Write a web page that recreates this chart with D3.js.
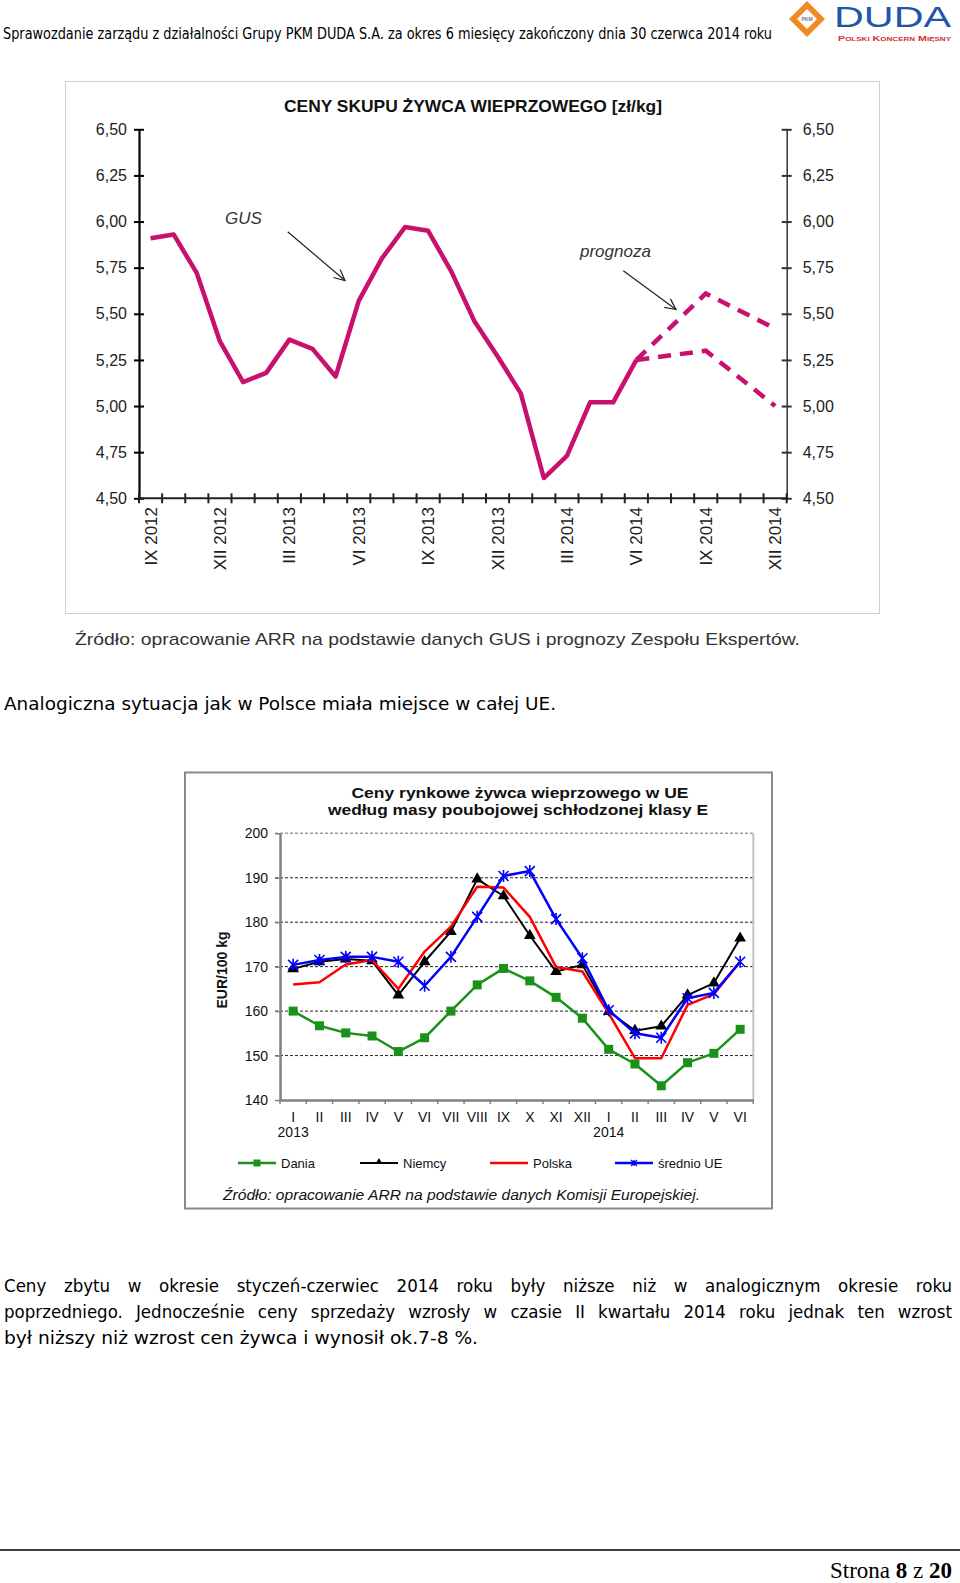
<!DOCTYPE html>
<html><head><meta charset="utf-8">
<script src="https://cdn.jsdelivr.net/npm/d3@7"></script>
<style>
html,body{margin:0;padding:0;background:#fff;}
svg{display:block;}
</style></head><body>
<svg id="page" width="960" height="1583"></svg>
<script>
// ===== Chart 1 data: Ceny skupu żywca wieprzowego [zł/kg] =====
const months1 = ["IX 2012","X 2012","XI 2012","XII 2012","I 2013","II 2013","III 2013","IV 2013","V 2013","VI 2013","VII 2013","VIII 2013","IX 2013","X 2013","XI 2013","XII 2013","I 2014","II 2014","III 2014","IV 2014","V 2014","VI 2014","VII 2014","VIII 2014","IX 2014","X 2014","XI 2014","XII 2014"];
const gusPrices = [5.91,5.93,5.72,5.35,5.13,5.18,5.36,5.31,5.16,5.57,5.80,5.97,5.95,5.73,5.46,5.27,5.07,4.61,4.73,5.02,5.02,5.25];
const forecastMonths = ["VI 2014","IX 2014","XII 2014"];
const forecastHigh = [5.25,5.61,5.42];
const forecastLow = [5.25,5.30,5.00];
const yTicks1 = [4.50,4.75,5.00,5.25,5.50,5.75,6.00,6.25,6.50];
const xLabels1 = ["IX 2012","XII 2012","III 2013","VI 2013","IX 2013","XII 2013","III 2014","VI 2014","IX 2014","XII 2014"];

// ===== Chart 2 data: Ceny rynkowe żywca wieprzowego w UE [EUR/100 kg] =====
const months2 = ["I 2013","II 2013","III 2013","IV 2013","V 2013","VI 2013","VII 2013","VIII 2013","IX 2013","X 2013","XI 2013","XII 2013","I 2014","II 2014","III 2014","IV 2014","V 2014","VI 2014"];
const dania     = [160.0,156.7,155.1,154.4,150.9,154.0,160.0,165.9,169.6,166.8,163.1,158.4,151.4,148.1,143.2,148.4,150.5,155.9];
const niemcy    = [169.5,171.1,171.7,171.3,163.6,171.1,177.9,189.7,185.9,177.0,168.9,170.4,159.9,155.6,156.6,163.6,166.3,176.4];
const polska    = [166.0,166.5,170.5,171.5,165.0,173.4,179.0,188.0,187.8,181.2,169.9,168.9,159.5,149.4,149.4,161.4,163.8,171.1];
const sredniaUE = [170.4,171.5,172.2,172.2,171.1,165.7,172.2,181.2,190.4,191.5,180.7,171.9,160.2,155.0,154.0,162.9,164.1,171.1];
const yTicks2 = [140,150,160,170,180,190,200];
const yearMonths2 = ["I 2013","I 2014"];
const yearLabels2 = ["2013","2014"];
const seriesNames2 = ["Dania","Niemcy","Polska","średnio UE"];

const svg = d3.select("#page");
const ARIAL = "'Liberation Sans', Arial, sans-serif";
const TAHOMA = "'DejaVu Sans Condensed', 'DejaVu Sans', sans-serif";
const TIMES = "'Liberation Serif', 'Times New Roman', serif";

// ---------- Header ----------
svg.append("text").attr("x",3).attr("y",39).attr("font-family",TAHOMA).attr("font-size",16)
  .attr("fill","#000").attr("textLength",769).attr("lengthAdjust","spacingAndGlyphs")
  .text("Sprawozdanie zarządu z działalności Grupy PKM DUDA S.A. za okres 6 miesięcy zakończony dnia 30 czerwca 2014 roku");
// logo
const logo = svg.append("g");
logo.append("polygon").attr("points","807,1 825,19 807,37 789,19").attr("fill","#f08a24");
logo.append("polygon").attr("points","807,9 817,19 807,29 797,19").attr("fill","#fff");
logo.append("text").attr("x",807).attr("y",21).attr("text-anchor","middle").attr("font-family",ARIAL)
  .attr("font-size",5).attr("font-weight","bold").attr("fill","#777").text("PKM");
logo.append("text").attr("x",834).attr("y",27).attr("font-family",ARIAL).attr("font-size",29.5)
  .attr("fill","#1f57a8").attr("textLength",117).attr("lengthAdjust","spacingAndGlyphs").text("DUDA");
logo.append("text").attr("x",838).attr("y",41).attr("font-family",ARIAL).attr("font-size",8)
  .attr("font-weight","bold").attr("font-variant","small-caps").attr("fill","#d82a2a")
  .attr("textLength",113).attr("lengthAdjust","spacingAndGlyphs").text("Polski Koncern Mięsny");

// ---------- Chart 1 ----------
const c1 = svg.append("g");
c1.append("rect").attr("x",65.5).attr("y",81.5).attr("width",814).attr("height",532)
  .attr("fill","#fff").attr("stroke","#cfcfcf").attr("stroke-width",1);
c1.append("text").attr("x",473).attr("y",112).attr("text-anchor","middle").attr("font-family",ARIAL)
  .attr("font-weight","bold").attr("font-size",17).attr("fill","#111")
  .attr("textLength",378).attr("lengthAdjust","spacingAndGlyphs")
  .text("CENY SKUPU ŻYWCA WIEPRZOWEGO [zł/kg]");

const x1 = d3.scaleBand().domain(months1).range([139,786.7]);
const y1 = d3.scaleLinear().domain([4.5,6.5]).range([498.3,129.3]);
const cx1 = m => x1(m) + x1.bandwidth()/2;

const leftAx = c1.append("g").attr("transform","translate(139,0)")
  .call(d3.axisLeft(y1).tickValues(yTicks1).tickSizeInner(5).tickSizeOuter(0).tickPadding(8)
    .tickFormat(d => d3.format(".2f")(d).replace(".",",")));
leftAx.select(".domain").attr("stroke","#000").attr("stroke-width",2.2);
leftAx.selectAll(".tick line").attr("stroke","#000").attr("stroke-width",2).attr("x2",5).attr("x1",-5);
leftAx.selectAll(".tick text").attr("font-family",ARIAL).attr("font-size",16).attr("fill","#222").attr("x",-12);

const rightAx = c1.append("g").attr("transform","translate(786.7,0)")
  .call(d3.axisRight(y1).tickValues(yTicks1).tickSizeInner(5).tickSizeOuter(0).tickPadding(8)
    .tickFormat(d => d3.format(".2f")(d).replace(".",",")));
rightAx.select(".domain").attr("stroke","#333").attr("stroke-width",1.5);
rightAx.selectAll(".tick line").attr("stroke","#333").attr("stroke-width",2).attr("x1",-5).attr("x2",5);
rightAx.selectAll(".tick text").attr("font-family",ARIAL).attr("font-size",16).attr("fill","#222").attr("x",16);

c1.append("line").attr("x1",139).attr("x2",786.7).attr("y1",y1(4.5)).attr("y2",y1(4.5))
  .attr("stroke","#222").attr("stroke-width",2);
const bounds1 = d3.range(months1.length+1).map(k => x1.range()[0] + k*x1.step());
c1.append("g").selectAll("line").data(bounds1).join("line")
  .attr("x1",d=>d).attr("x2",d=>d).attr("y1",y1(4.5)-5).attr("y2",y1(4.5)+5)
  .attr("stroke","#222").attr("stroke-width",2);
c1.append("g").selectAll("text").data(xLabels1).join("text")
  .attr("transform",d => `translate(${cx1(d)},507) rotate(-90)`)
  .attr("text-anchor","end").attr("dy","0.36em").attr("font-family",ARIAL).attr("font-size",17)
  .attr("fill","#222").text(d=>d);

const lineColor1 = "#c8106e";
const line1 = d3.line().x((d,i)=>cx1(months1[i])).y(d=>y1(d));
c1.append("path").attr("d",line1(gusPrices)).attr("fill","none").attr("stroke",lineColor1)
  .attr("stroke-width",4.5).attr("stroke-linejoin","round");
const lineF = d3.line().x((d,i)=>cx1(forecastMonths[i])).y(d=>y1(d));
[forecastHigh,forecastLow].forEach(s => {
  c1.append("path").attr("d",lineF(s)).attr("fill","none").attr("stroke",lineColor1)
    .attr("stroke-width",4.5).attr("stroke-dasharray","13,9");
});

function arrow(g,xA,yA,xB,yB){
  g.append("line").attr("x1",xA).attr("y1",yA).attr("x2",xB).attr("y2",yB).attr("stroke","#222").attr("stroke-width",1.2);
  const ang = Math.atan2(yB-yA,xB-xA), L=12, w=0.45;
  const p1=[xB-L*Math.cos(ang-w), yB-L*Math.sin(ang-w)], p2=[xB-L*Math.cos(ang+w), yB-L*Math.sin(ang+w)];
  g.append("path").attr("d",`M${p1[0]},${p1[1]}L${xB},${yB}L${p2[0]},${p2[1]}`).attr("fill","none").attr("stroke","#222").attr("stroke-width",1.2);
}
c1.append("text").attr("x",225).attr("y",224).attr("font-family",ARIAL).attr("font-style","italic")
  .attr("font-size",17).attr("fill","#333").text("GUS");
arrow(c1,287.7,231.7,345,280.5);
c1.append("text").attr("x",580).attr("y",257).attr("font-family",ARIAL).attr("font-style","italic")
  .attr("font-size",17).attr("fill","#333").text("prognoza");
arrow(c1,623.3,270.7,676,309.5);

svg.append("text").attr("x",75).attr("y",645).attr("font-family",ARIAL).attr("font-size",17)
  .attr("fill","#333").attr("textLength",725).attr("lengthAdjust","spacingAndGlyphs")
  .text("Źródło: opracowanie ARR na podstawie danych GUS i prognozy Zespołu Ekspertów.");

svg.append("text").attr("x",4).attr("y",710).attr("font-family",TAHOMA).attr("font-size",18.5)
  .attr("fill","#000").attr("textLength",552).attr("lengthAdjust","spacingAndGlyphs")
  .text("Analogiczna sytuacja jak w Polsce miała miejsce w całej UE.");

// ---------- Chart 2 ----------
const c2 = svg.append("g");
c2.append("rect").attr("x",185).attr("y",772.5).attr("width",587).attr("height",436)
  .attr("fill","#fff").attr("stroke","#8a8a8a").attr("stroke-width",2);
c2.append("text").attr("x",520).attr("y",798).attr("text-anchor","middle").attr("font-family",ARIAL)
  .attr("font-weight","bold").attr("font-size",15).attr("fill","#111")
  .attr("textLength",337).attr("lengthAdjust","spacingAndGlyphs").text("Ceny rynkowe żywca wieprzowego w UE");
c2.append("text").attr("x",518).attr("y",815).attr("text-anchor","middle").attr("font-family",ARIAL)
  .attr("font-weight","bold").attr("font-size",15).attr("fill","#111")
  .attr("textLength",380).attr("lengthAdjust","spacingAndGlyphs").text("według masy poubojowej schłodzonej klasy E");

const x2 = d3.scaleBand().domain(months2).range([280,753.3]);
const y2 = d3.scaleLinear().domain([140,200]).range([1100,833.3]);
const cx2 = m => x2(m) + x2.bandwidth()/2;

c2.append("g").selectAll("line").data(yTicks2.filter(v=>v>140 && v<200)).join("line")
  .attr("x1",275).attr("x2",753.3).attr("y1",d=>y2(d)).attr("y2",d=>y2(d))
  .attr("stroke","#222").attr("stroke-width",1).attr("stroke-dasharray","3,2");
c2.append("line").attr("x1",275).attr("x2",753.3).attr("y1",y2(200)).attr("y2",y2(200))
  .attr("stroke","#999").attr("stroke-width",1.5).attr("stroke-dasharray","3,2");
c2.append("line").attr("x1",753.3).attr("x2",753.3).attr("y1",y2(200)).attr("y2",y2(140))
  .attr("stroke","#c4c4c4").attr("stroke-width",2);

const lAx2 = c2.append("g").attr("transform","translate(280,0)")
  .call(d3.axisLeft(y2).tickValues(yTicks2).tickSizeInner(5).tickSizeOuter(0).tickPadding(8));
lAx2.select(".domain").attr("stroke","#808080").attr("stroke-width",2.5);
lAx2.selectAll(".tick line").attr("stroke","#808080").attr("stroke-width",1.5);
lAx2.selectAll(".tick text").attr("font-family",ARIAL).attr("font-size",14).attr("fill","#111").attr("x",-12);

const bAx2 = c2.append("g").attr("transform",`translate(0,${y2(140)})`)
  .call(d3.axisBottom(x2).tickSize(0).tickPadding(12).tickFormat(d=>d.split(" ")[0]));
bAx2.select(".domain").attr("stroke","#808080").attr("stroke-width",2.5);
bAx2.selectAll(".tick text").attr("font-family",ARIAL).attr("font-size",14).attr("fill","#111");
const bounds2 = d3.range(months2.length+1).map(k => x2.range()[0] + k*x2.step());
c2.append("g").selectAll("line").data(bounds2).join("line")
  .attr("x1",d=>d).attr("x2",d=>d).attr("y1",y2(140)).attr("y2",y2(140)+4)
  .attr("stroke","#808080").attr("stroke-width",1.5);
c2.append("g").selectAll("text").data(yearMonths2).join("text")
  .attr("x",d=>cx2(d)).attr("y",1137).attr("text-anchor","middle").attr("font-family",ARIAL)
  .attr("font-size",14).attr("fill","#111").text((d,i)=>yearLabels2[i]);

c2.append("text").attr("transform","translate(221.5,970) rotate(-90)").attr("text-anchor","middle")
  .attr("dy","0.36em").attr("font-family",ARIAL).attr("font-weight","bold").attr("font-size",14)
  .attr("fill","#111").text("EUR/100 kg");

const colors2 = ["#1a921a","#000000","#ff0000","#0000ff"];
const widths2 = [2.5,2,2.5,2.5];
const data2 = [dania,niemcy,polska,sredniaUE];
const line2 = d3.line().x((d,i)=>cx2(months2[i])).y(d=>y2(d));

function marker(g, type, x, y, color){
  if(type===0){
    g.append("rect").attr("x",x-4.5).attr("y",y-4.5).attr("width",9).attr("height",9).attr("fill",color);
  } else if(type===1){
    g.append("path").attr("transform",`translate(${x},${y})`).attr("d",d3.symbol(d3.symbolTriangle,60)()).attr("fill",color);
  } else if(type===3){
    const s=5;
    g.append("path").attr("d",`M${x-s},${y-s}L${x+s},${y+s}M${x-s},${y+s}L${x+s},${y-s}M${x},${y-s-1}L${x},${y+s+1}`)
      .attr("stroke",color).attr("stroke-width",1.6).attr("fill","none");
  }
}
data2.forEach((s,k) => {
  const g = c2.append("g");
  g.append("path").attr("d",line2(s)).attr("fill","none").attr("stroke",colors2[k])
    .attr("stroke-width",widths2[k]).attr("stroke-linejoin","round");
  s.forEach((v,i) => marker(g,k,cx2(months2[i]),y2(v),colors2[k]));
});

const legX = [238,360,490,615];
seriesNames2.forEach((n,k) => {
  const g = c2.append("g");
  g.append("line").attr("x1",legX[k]).attr("x2",legX[k]+38).attr("y1",1163).attr("y2",1163)
    .attr("stroke",colors2[k]).attr("stroke-width",widths2[k]);
  if(k===0) g.append("rect").attr("x",legX[k]+15.5).attr("y",1159.5).attr("width",7).attr("height",7).attr("fill",colors2[k]);
  else if(k===1) g.append("path").attr("transform",`translate(${legX[k]+19},1162)`).attr("d",d3.symbol(d3.symbolTriangle,22)()).attr("fill",colors2[k]);
  else if(k===3){const x=legX[k]+19,y=1163,s=3;
    g.append("path").attr("d",`M${x-s},${y-s}L${x+s},${y+s}M${x-s},${y+s}L${x+s},${y-s}M${x},${y-s}L${x},${y+s}`).attr("stroke",colors2[k]).attr("stroke-width",1.3);}
  g.append("text").attr("x",legX[k]+43).attr("y",1167.5).attr("font-family",ARIAL).attr("font-size",13)
    .attr("fill","#111").text(n);
});

c2.append("text").attr("x",223).attr("y",1200).attr("font-family",ARIAL).attr("font-style","italic")
  .attr("font-size",14).attr("fill","#111").attr("textLength",477).attr("lengthAdjust","spacingAndGlyphs")
  .text("Źródło: opracowanie ARR na podstawie danych Komisji Europejskiej.");

// ---------- Body text ----------
function justify(words, x0, x1, y, size){
  const t = svg.append("text").attr("y",y).attr("font-family",TAHOMA).attr("font-size",size).attr("fill","#000");
  const spans = words.map(w => t.append("tspan").text(w));
  const ws = spans.map(s => s.node().getComputedTextLength());
  const total = d3.sum(ws);
  const gap = (x1 - x0 - total)/(words.length-1);
  let x = x0;
  spans.forEach((s,i) => { s.attr("x",x); x += ws[i] + gap; });
}
justify("Ceny zbytu w okresie styczeń-czerwiec 2014 roku były niższe niż w analogicznym okresie roku".split(" "),4,952,1292,18.5);
justify("poprzedniego. Jednocześnie ceny sprzedaży wzrosły w czasie II kwartału 2014 roku jednak ten wzrost".split(" "),4,952,1318,18.5);
svg.append("text").attr("x",4).attr("y",1344).attr("font-family",TAHOMA).attr("font-size",18.5).attr("fill","#000")
  .attr("textLength",474).attr("lengthAdjust","spacingAndGlyphs")
  .text("był niższy niż wzrost cen żywca i wynosił ok.7-8 %.");

// ---------- Footer ----------
svg.append("line").attr("x1",0).attr("x2",960).attr("y1",1550).attr("y2",1550).attr("stroke","#000").attr("stroke-width",1.5);
const ft = svg.append("text").attr("x",952).attr("y",1578).attr("text-anchor","end").attr("font-family",TIMES)
  .attr("font-size",23).attr("fill","#000");
ft.append("tspan").text("Strona ");
ft.append("tspan").attr("font-weight","bold").text("8");
ft.append("tspan").text(" z ");
ft.append("tspan").attr("font-weight","bold").text("20");
</script>
</body></html>
